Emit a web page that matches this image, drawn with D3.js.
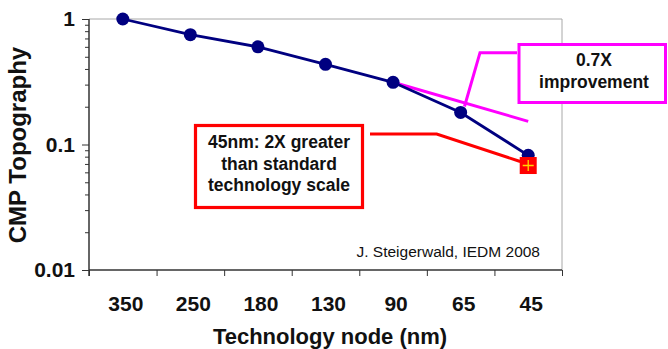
<!DOCTYPE html>
<html>
<head>
<meta charset="utf-8">
<script src="https://cdn.jsdelivr.net/npm/d3@7"></script>
<style>
  body { margin: 0; background: #fff; }
  svg { display: block; font-family: "Liberation Sans", Arial, sans-serif; }
</style>
</head>
<body>
<svg id="chart" width="668" height="349"></svg>
<script>
// chart values
var nodes = ["350", "250", "180", "130", "90", "65", "45"];
var topography = [1, 0.75, 0.60, 0.435, 0.313, 0.18, 0.082];
var measuredNode = "45";
var measuredValue = 0.068;
var trendNodes = ["90", "45"];
var trendValues = [0.313, 0.153];
var yMajor = [1, 0.1, 0.01];
var yMajorLabels = ["1", "0.1", "0.01"];

var svg = d3.select("#chart");
var plotLeft = 89, plotRight = 562, plotTop = 19, plotBottom = 270;

var x = d3.scaleBand().domain(nodes).range([plotLeft, plotRight]);
var y = d3.scaleLog().domain([0.01, 1]).range([plotBottom, plotTop]);
var xEdge = d3.scaleLinear().domain([0, nodes.length]).range([plotLeft, plotRight]);

// plot area border (top / right)
svg.append("path")
    .attr("d", "M" + plotLeft + "," + plotTop + "H" + plotRight + "V" + plotBottom)
    .attr("fill", "none")
    .attr("stroke", "#a8a8a8")
    .attr("stroke-width", 1);

// y axis: minor ticks
var minor = y.ticks().filter(function(d) { return yMajor.indexOf(d) < 0; });
svg.append("g")
    .attr("transform", "translate(" + plotLeft + ",0)")
    .call(d3.axisLeft(y).tickValues(minor).tickSize(4).tickFormat(""))
    .call(function(g) { g.select(".domain").remove(); })
    .selectAll("line").attr("stroke", "#333");

// y axis: major ticks + labels
var yAxis = svg.append("g")
    .attr("transform", "translate(" + plotLeft + ",0)")
    .call(d3.axisLeft(y).tickValues(yMajor).tickSize(7).tickPadding(7)
        .tickFormat(function(d, i) { return yMajorLabels[i]; }));
yAxis.select(".domain").attr("stroke", "#333").attr("stroke-width", 1.5)
    .attr("d", "M0," + plotTop + "V" + (plotBottom + 6));
yAxis.selectAll("line").attr("stroke", "#333");
yAxis.selectAll("text")
    .attr("font-size", 21).attr("font-weight", "bold").attr("fill", "#111")
    .attr("font-family", "Liberation Sans, Arial, sans-serif");

// x axis: boundary ticks
var xTicks = svg.append("g")
    .attr("transform", "translate(0," + plotBottom + ")")
    .call(d3.axisBottom(xEdge).tickValues(d3.range(nodes.length + 1)).tickSize(6).tickFormat(""));
xTicks.select(".domain").attr("stroke", "#333").attr("stroke-width", 1.5)
    .attr("d", "M" + plotLeft + ",0H" + plotRight);
xTicks.selectAll("line").attr("stroke", "#333");

// x axis: labels
var xLab = svg.append("g")
    .attr("transform", "translate(0," + plotBottom + ")")
    .call(d3.axisBottom(x).tickSize(0).tickPadding(26));
xLab.select(".domain").remove();
xLab.selectAll("text")
    .attr("font-size", 21).attr("font-weight", "bold").attr("fill", "#111")
    .attr("font-family", "Liberation Sans, Arial, sans-serif")
    .attr("dx", 3);

// axis titles
svg.append("text")
    .attr("x", 330).attr("y", 344)
    .attr("text-anchor", "middle")
    .attr("font-size", 22).attr("font-weight", "bold").attr("fill", "#111")
    .text("Technology node (nm)");
svg.append("text")
    .attr("transform", "translate(26,145) rotate(-90)")
    .attr("text-anchor", "middle")
    .attr("font-size", 24).attr("font-weight", "bold").attr("fill", "#111")
    .text("CMP Topography");

// 0.7X trend line
var trendLine = d3.line()
    .x(function(d, i) { return x(trendNodes[i]) + x.bandwidth() / 2; })
    .y(function(d) { return y(d); });
svg.append("path")
    .datum(trendValues)
    .attr("d", trendLine)
    .attr("fill", "none")
    .attr("stroke", "#ff00ff")
    .attr("stroke-width", 3);

// measured series
var line = d3.line()
    .x(function(d, i) { return x(nodes[i]) + x.bandwidth() / 2; })
    .y(function(d) { return y(d); });
svg.append("path")
    .datum(topography)
    .attr("d", line)
    .attr("fill", "none")
    .attr("stroke", "#000080")
    .attr("stroke-width", 2.8);
svg.selectAll("circle.pt")
    .data(topography)
    .enter()
    .append("circle")
    .attr("class", "pt")
    .attr("cx", function(d, i) { return x(nodes[i]) + x.bandwidth() / 2; })
    .attr("cy", function(d) { return y(d); })
    .attr("r", 6.5)
    .attr("fill", "#000080");

// magenta callout
svg.append("polyline")
    .attr("points", "517,52.7 480,52.7 464.5,106.5")
    .attr("fill", "none").attr("stroke", "#ff00ff").attr("stroke-width", 3);
svg.append("rect")
    .attr("x", 519).attr("y", 44.5).attr("width", 146.5).attr("height", 58)
    .attr("fill", "#fff").attr("stroke", "#ff00ff").attr("stroke-width", 3);
svg.append("text")
    .attr("x", 594).attr("text-anchor", "middle")
    .attr("font-size", 17.5).attr("font-weight", "bold").attr("fill", "#111")
    .selectAll("tspan")
    .data(["0.7X", "improvement"])
    .enter().append("tspan")
    .attr("x", 594)
    .attr("y", function(d, i) { return 66 + i * 21.5; })
    .text(function(d) { return d; });

// red callout
var mx = x(measuredNode) + x.bandwidth() / 2, my = y(measuredValue);
svg.append("polyline")
    .attr("points", "370,134 436.7,134 " + (mx - 8) + "," + (my - 4))
    .attr("fill", "none").attr("stroke", "#ff0000").attr("stroke-width", 3);
svg.append("rect")
    .attr("x", 195.5).attr("y", 125.5).attr("width", 167).attr("height", 82)
    .attr("fill", "#fff").attr("stroke", "#ff0000").attr("stroke-width", 3.2);
svg.append("text")
    .attr("text-anchor", "middle")
    .attr("font-size", 17.5).attr("font-weight", "bold").attr("fill", "#111")
    .selectAll("tspan")
    .data(["45nm: 2X greater", "than standard", "technology scale"])
    .enter().append("tspan")
    .attr("x", 279)
    .attr("y", function(d, i) { return 148 + i * 21.7; })
    .text(function(d) { return d; });

// measured 45nm marker
svg.append("rect")
    .attr("x", mx - 8.5).attr("y", my - 8.5).attr("width", 17).attr("height", 17)
    .attr("fill", "#ff0000");
svg.append("path")
    .attr("d", "M" + (mx - 5.5) + "," + my + "H" + (mx + 5.5) + "M" + mx + "," + (my - 5.5) + "V" + (my + 5.5))
    .attr("stroke", "#ffd800").attr("stroke-width", 1.3);

// citation
svg.append("text")
    .attr("x", 540).attr("y", 256.5)
    .attr("text-anchor", "end")
    .attr("font-size", 15.5).attr("fill", "#111")
    .text("J. Steigerwald, IEDM 2008");
</script>
</body>
</html>
